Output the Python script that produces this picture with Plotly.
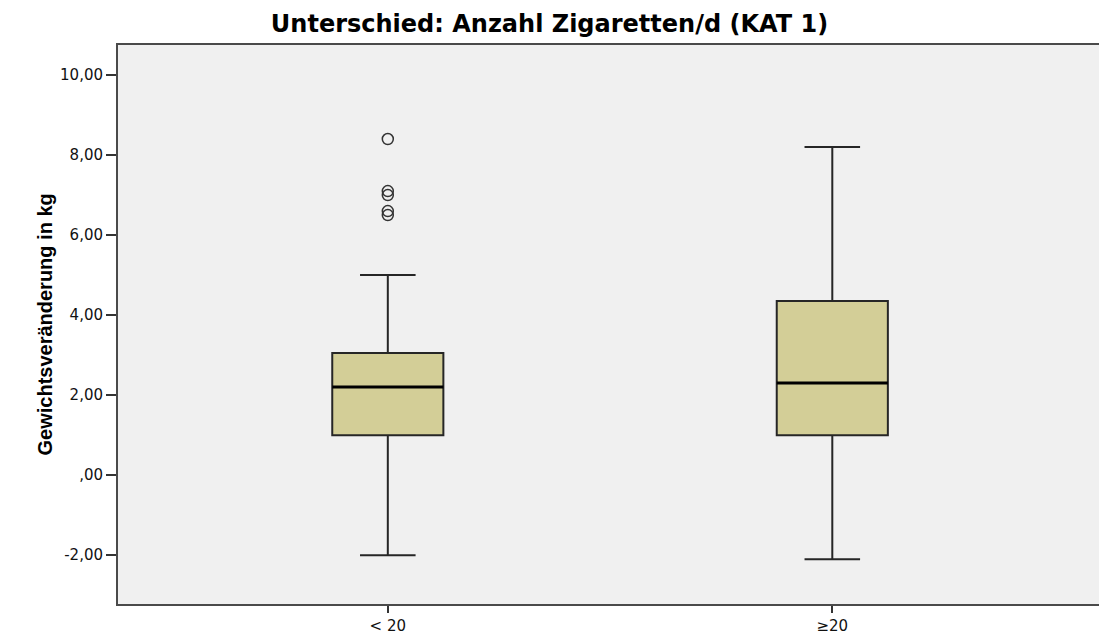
import plotly.graph_objects as go

# Weight change (kg) summarised by cigarettes per day category
categories = ["< 20", "≥20"]
q1 = [1.0, 1.0]
median = [2.2, 2.3]
q3 = [3.05, 4.35]
lower_fence = [-2.0, -2.1]
upper_fence = [5.0, 8.2]
outliers_lt20 = [8.4, 7.1, 7.0, 6.6, 6.5]

y_tickvals = [-2, 0, 2, 4, 6, 8, 10]
y_ticktext = ["-2,00", ",00", "2,00", "4,00", "6,00", "8,00", "10,00"]

BOX_W = 0.25
FILL = "#D3CE97"
EDGE = "#262626"
FRAME = "#4a4a4a"

xpos = list(range(len(categories)))

fig = go.Figure()

fig.add_trace(go.Box(
    x=xpos,
    q1=q1, median=median, q3=q3,
    lowerfence=lower_fence, upperfence=upper_fence,
    width=BOX_W,
    whiskerwidth=0.5,
    fillcolor=FILL,
    line=dict(color=EDGE, width=2),
    boxpoints=False,
    showlegend=False,
    hoverinfo="skip",
))

# Heavier median bars drawn on top of the boxes
for i, m in enumerate(median):
    fig.add_trace(go.Scatter(
        x=[xpos[i] - BOX_W / 2, xpos[i] + BOX_W / 2],
        y=[m, m],
        mode="lines",
        line=dict(color="black", width=3),
        showlegend=False,
        hoverinfo="skip",
    ))

fig.add_trace(go.Scatter(
    x=[xpos[0]] * len(outliers_lt20),
    y=outliers_lt20,
    mode="markers",
    marker=dict(symbol="circle-open", size=11, color="#333333",
                line=dict(width=1.5, color="#333333")),
    showlegend=False,
    hoverinfo="skip",
))

fig.update_layout(
    width=1099, height=635,
    margin=dict(l=118, r=0, t=45, b=29),
    paper_bgcolor="white",
    plot_bgcolor="#F0F0F0",
    title=dict(
        text="Unterschied: Anzahl Zigaretten/d (KAT 1)",
        x=0.5, xref="container", xanchor="center",
        y=1 - 24 / 635, yref="container", yanchor="middle",
        font=dict(family="DejaVu Sans", size=24, color="black", weight="bold"),
    ),
    xaxis=dict(
        range=[-0.607, 1.6],
        tickvals=xpos, ticktext=categories,
        showgrid=False, zeroline=False,
        showline=True, mirror=True, linecolor=FRAME, linewidth=2,
        ticks="outside", ticklen=7, tickwidth=1.5, tickcolor="#333333",
        tickfont=dict(family="DejaVu Sans", size=15, color="#111111"),
    ),
    yaxis=dict(
        range=[-3.22, 10.75],
        tickvals=y_tickvals, ticktext=y_ticktext,
        showgrid=False, zeroline=False,
        showline=True, linecolor=FRAME, linewidth=2,
        ticks="outside", ticklen=10, tickwidth=1.5, tickcolor="#333333",
        tickfont=dict(family="DejaVu Sans", size=15, color="#111111"),
    ),
    annotations=[dict(
        text="Gewichtsveränderung in kg",
        textangle=-90,
        xref="paper", yref="paper",
        x=-(118 - 44) / (1099 - 118), y=0.5,
        xanchor="center", yanchor="middle",
        showarrow=False,
        font=dict(family="Liberation Sans Narrow, Liberation Sans", size=20,
                  color="black", weight="bold"),
    )],
)

fig.write_html("out.html")
